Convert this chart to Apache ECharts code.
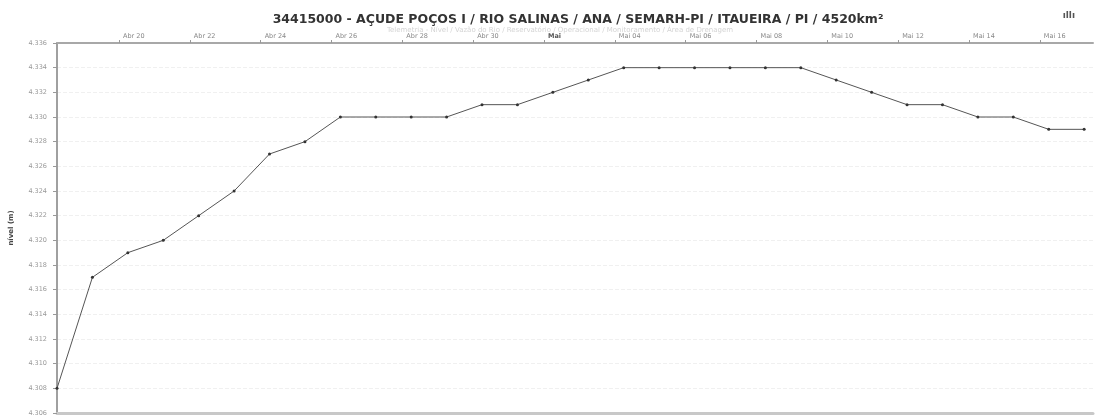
<!DOCTYPE html>
<html>
<head>
<meta charset="utf-8">
<script src="https://cdn.jsdelivr.net/npm/echarts@6/dist/echarts.min.js"></script>
<style>
  html, body { margin: 0; padding: 0; background: #fff; }
  #chart { width: 1099px; height: 419px; }
</style>
</head>
<body>
<div id="chart"></div>
<script>
// dias de leitura (18/04 a 17/05), leitura das 06h
const dias = [
  "18/04", "19/04", "20/04", "21/04", "22/04", "23/04", "24/04", "25/04",
  "26/04", "27/04", "28/04", "29/04", "30/04", "01/05", "02/05", "03/05",
  "04/05", "05/05", "06/05", "07/05", "08/05", "09/05", "10/05", "11/05",
  "12/05", "13/05", "14/05", "15/05", "16/05", "17/05"
];
// nível (m)
const nivel = [
  4.308, 4.317, 4.319, 4.320, 4.322, 4.324, 4.327, 4.328,
  4.330, 4.330, 4.330, 4.330, 4.331, 4.331, 4.332, 4.333,
  4.334, 4.334, 4.334, 4.334, 4.334, 4.334, 4.333, 4.332,
  4.331, 4.331, 4.330, 4.330, 4.329, 4.329
];
// marcas do eixo de tempo (dias desde 18/04 00h)
const tickDias = [2, 4, 6, 8, 10, 12, 14, 16, 18, 20, 22, 24, 26, 28];
const tickLabels = [
  "Abr 20", "Abr 22", "Abr 24", "Abr 26", "Abr 28", "Abr 30", "Mai",
  "Mai 04", "Mai 06", "Mai 08", "Mai 10", "Mai 12", "Mai 14", "Mai 16"
];

const HORA = 0.25; // leitura às 06h
const dados = dias.map((d, i) => [i + HORA, nivel[i]]);

const chart = echarts.init(document.getElementById("chart"));
const option = {
  animation: false,
  textStyle: { fontFamily: "DejaVu Sans" },
  title: [
    {
      text: "34415000 - AÇUDE POÇOS I / RIO SALINAS / ANA / SEMARH-PI / ITAUEIRA / PI / 4520km²",
      left: 573,
      top: 8,
      textAlign: "center",
      textStyle: { fontSize: 12.5, fontWeight: "bold", color: "#333" }
    },
    {
      text: "Telemetria - Nível / Vazão do Rio / Reservatório / Operacional / Monitoramento / Área de Drenagem",
      left: 555,
      top: 22,
      textAlign: "center",
      textStyle: { fontSize: 7, fontWeight: "normal", color: "#d4d4d4" }
    }
  ],
  graphic: [
    {
      type: "text",
      right: 24,
      top: 11,
      style: { text: "ıllı", fill: "#555", font: "bold 9px DejaVu Sans" }
    }
  ],
  grid: { left: 55, right: 6, top: 43, bottom: 6 },
  xAxis: [
    {
      type: "value",
      position: "top",
      min: HORA,
      max: 29.5,
      axisLine: { show: true, lineStyle: { color: "#a8a8a8", width: 2 } },
      axisTick: {
        show: true,
        customValues: tickDias,
        length: 3,
        lineStyle: { color: "#999" }
      },
      axisLabel: {
        customValues: tickDias,
        align: "left",
        margin: 3,
        padding: [0, 0, 0, 4],
        fontSize: 6.5,
        color: "#888",
        formatter: function (v) {
          const s = tickLabels[tickDias.indexOf(v)];
          return s === "Mai" ? "{b|" + s + "}" : s;
        },
        rich: { b: { fontSize: 6.5, fontWeight: "bold", color: "#555" } }
      },
      splitLine: { show: false }
    },
    {
      type: "value",
      position: "bottom",
      min: HORA,
      max: 29.5,
      axisLine: { show: true, lineStyle: { color: "#c8c8c8", width: 3 } },
      axisTick: { show: false },
      axisLabel: { show: false },
      splitLine: { show: false }
    }
  ],
  yAxis: {
    type: "value",
    min: 4.306,
    max: 4.336,
    interval: 0.002,
    name: "nível (m)",
    nameLocation: "middle",
    nameGap: 42,
    nameTextStyle: { fontSize: 7, fontWeight: "bold", color: "#444" },
    axisLine: { show: true, lineStyle: { color: "#a0a0a0", width: 2 } },
    axisTick: { show: true, length: 4, lineStyle: { color: "#999" } },
    axisLabel: {
      fontSize: 6.5,
      color: "#999",
      margin: 10,
      formatter: (v) => v.toFixed(3)
    },
    splitLine: { show: true, lineStyle: { color: "#f0f0f0", width: 1, type: "dashed" } }
  },
  series: [
    {
      name: "nível",
      type: "line",
      data: dados,
      symbol: "circle",
      symbolSize: 3,
      lineStyle: { color: "#555", width: 1 },
      itemStyle: { color: "#333" }
    }
  ]
};
chart.setOption(option);
</script>
</body>
</html>
